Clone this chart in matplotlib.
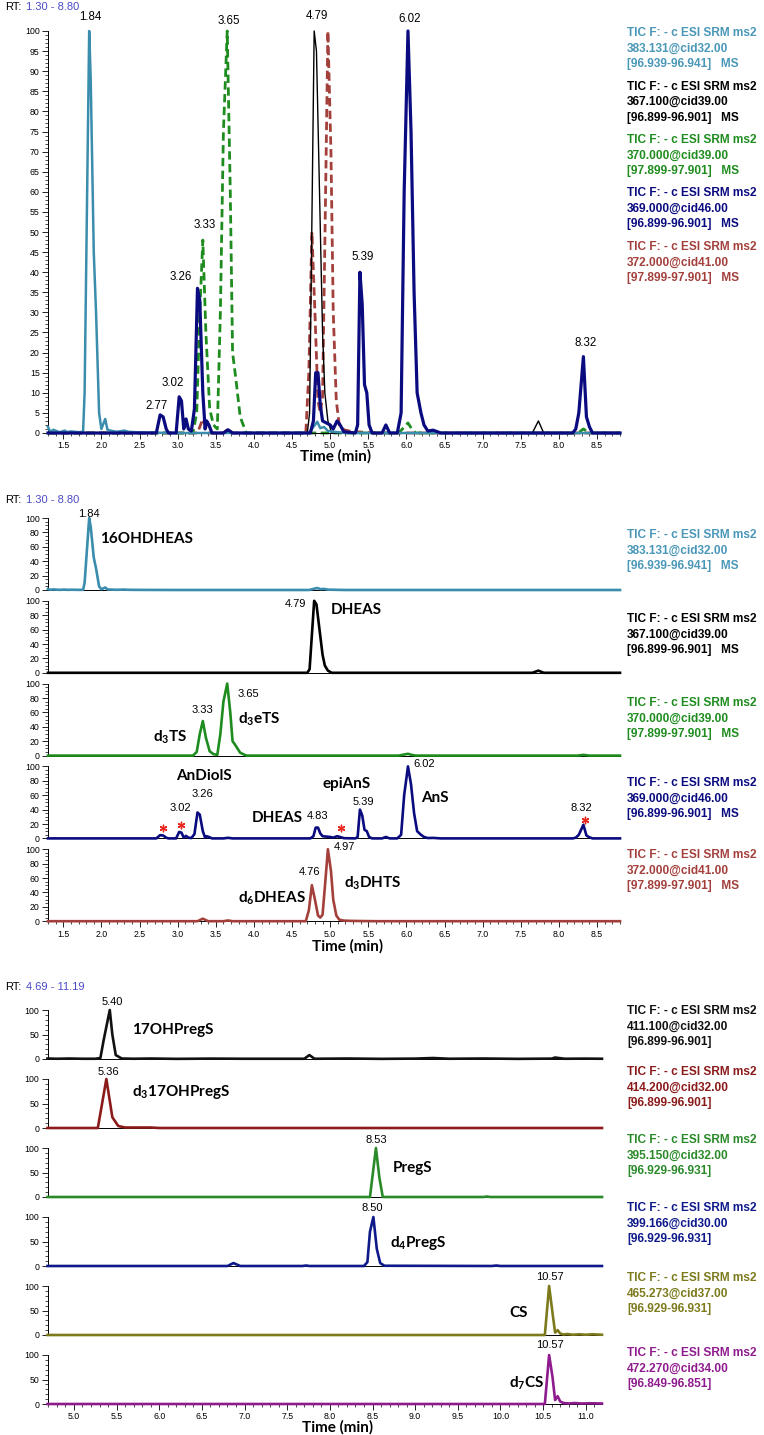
import matplotlib
matplotlib.use("Agg")
import matplotlib.pyplot as plt
from matplotlib.ticker import MultipleLocator

plt.rcParams['font.family'] = ['Liberation Sans', 'DejaVu Sans']

W, H = 764, 1435

# ---- overlay / stacked panels (RT 1.30 - 8.80) ----
teal_t = [1.30, 1.33, 1.37, 1.45, 1.52, 1.55, 1.60, 1.70, 1.76, 1.78, 1.84, 1.86, 1.90, 1.93, 1.97, 2.00,
          2.05, 2.08, 2.12, 2.20, 2.30, 2.35, 2.45, 2.60, 3.00, 4.72, 4.78, 4.83, 4.87, 4.92, 4.97, 5.05, 5.20, 8.80]
teal_i = [1.5, 0.3, 0.8, 0.2, 0.6, 0.2, 0.4, 0.2, 0.3, 10, 100, 88, 45, 30, 5, 1,
          3.5, 0.8, 0.6, 0.3, 0.6, 0.3, 0.2, 0.1, 0, 0, 1.5, 2.8, 1.2, 1.5, 0.5, 0.3, 0, 0]

black_t = [1.30, 4.70, 4.73, 4.79, 4.82, 4.86, 4.90, 4.93, 4.97, 5.02, 7.65, 7.73, 7.80, 8.80]
black_i = [0, 0, 5, 100, 95, 60, 25, 10, 3, 0, 0, 3, 0, 0]

green_t = [1.30, 3.20, 3.25, 3.29, 3.33, 3.37, 3.42, 3.47, 3.52, 3.56, 3.60, 3.65, 3.69, 3.72, 3.76, 3.82, 3.90,
           5.90, 5.97, 6.02, 6.07, 6.12, 8.25, 8.32, 8.40, 8.80]
green_i = [0, 0, 5, 30, 48, 25, 6, 2, 1, 30, 75, 100, 60, 20, 14, 4, 0,
           0, 1.5, 2.5, 1, 0, 0, 1, 0, 0]

navy_t = [1.30, 2.72, 2.77, 2.81, 2.85, 2.88, 2.98, 3.02, 3.05, 3.08, 3.11, 3.14, 3.18, 3.22, 3.26, 3.29, 3.33,
          3.36, 3.38, 3.41, 3.45, 3.60, 3.66, 3.72, 4.74, 4.78, 4.81, 4.84, 4.87, 4.90, 4.95, 5.00, 5.04, 5.09,
          5.13, 5.18, 5.33, 5.36, 5.39, 5.42, 5.45, 5.48, 5.51, 5.55, 5.68, 5.73, 5.78, 5.88, 5.93, 5.97, 6.02,
          6.06, 6.10, 6.14, 6.19, 6.23, 6.28, 6.35, 6.45, 8.18, 8.22, 8.26, 8.32, 8.36, 8.40, 8.44, 8.80]
navy_i = [0, 0, 4.5, 4, 1, 0, 0, 9, 8, 1, 3.5, 1, 0.5, 6, 36, 33, 10,
          1, 3, 2, 0, 0, 0.8, 0, 0, 3, 15, 15, 7, 3, 2.5, 2, 1, 3,
          2, 0.3, 0, 2, 40, 32, 12, 10, 2, 0, 0, 2, 0, 0, 5, 60, 100,
          75, 35, 10, 5, 2, 0.5, 0.7, 0, 0, 1, 5, 19, 4, 1.5, 0, 0]

red_t = [1.30, 3.26, 3.33, 3.40, 3.60, 3.66, 3.72, 4.68, 4.72, 4.76, 4.80, 4.84, 4.87, 4.90, 4.94, 4.97, 5.01,
         5.04, 5.08, 5.12, 5.18, 5.25, 5.35, 5.60, 8.80]
red_i = [0, 0, 3.5, 0, 0, 1, 0, 0, 15, 50, 30, 8, 5, 9, 60, 100, 70,
         30, 8, 2, 0.8, 0.5, 0.3, 0, 0]

upper_colors = ['#3b8dae', '#000000', '#1e8c1e', '#0b0b80', '#a3403c']
upper_text_colors = ['#4a97b8', '#000000', '#1e8c1e', '#0b0b80', '#a3403c']
upper_masses = ['383.131@cid32.00', '367.100@cid39.00', '370.000@cid39.00', '369.000@cid46.00', '372.000@cid41.00']
upper_ranges = ['[96.939-96.941]', '[96.899-96.901]', '[97.899-97.901]', '[96.899-96.901]', '[97.899-97.901]']

# peak labels of the overlay panel: (text, time, intensity)
overlay_labels = [('1.84', 1.85, 103.5), ('3.65', 3.67, 102.5), ('4.79', 4.82, 103.7), ('6.02', 6.04, 103),
                  ('3.33', 3.35, 51.7), ('3.26', 3.04, 38.8), ('3.02', 2.93, 12.4), ('2.77', 2.73, 6.7),
                  ('5.39', 5.43, 43.8), ('8.32', 8.35, 22.4)]

# stacked panel annotations, per trace: (text, time, intensity, ha, kind)
stack_labels = [
    [('1.84', 1.84, 106, 'center', 'rt'), ('16OHDHEAS', 1.98, 71, 'left', 'name')],
    [('4.79', 4.68, 96, 'right', 'rt'), ('DHEAS', 5.01, 87, 'left', 'name')],
    [('3.33', 3.33, 64, 'center', 'rt'), ('3.65', 3.79, 86, 'left', 'rt'),
     (r'$\mathregular{d_3}$TS', 2.68, 25, 'left', 'name'), (r'$\mathregular{d_3}$eTS', 3.79, 50, 'left', 'name')],
    [('AnDiolS', 3.35, 86, 'center', 'name'), ('3.26', 3.33, 61, 'center', 'rt'), ('3.02', 3.04, 42, 'center', 'rt'),
     ('epiAnS', 5.21, 75, 'center', 'name'), ('5.39', 5.44, 51, 'center', 'rt'), ('6.02', 6.09, 104, 'left', 'rt'),
     ('AnS', 6.19, 56, 'left', 'name'), ('DHEAS', 4.64, 28, 'right', 'name'), ('4.83', 4.84, 31, 'center', 'rt'),
     ('8.32', 8.30, 42, 'center', 'rt')],
    [('4.76', 4.73, 69, 'center', 'rt'), ('4.97', 5.05, 103, 'left', 'rt'),
     (r'$\mathregular{d_6}$DHEAS', 3.79, 32, 'left', 'name'), (r'$\mathregular{d_3}$DHTS', 5.18, 53, 'left', 'name')],
]
star_t = [2.81, 3.05, 5.14, 8.34]
star_i = [15, 18, 15, 25]

# ---- lower panel (RT 4.69 - 11.19) ----
b1_t = [4.69, 4.80, 4.95, 5.10, 5.25, 5.31, 5.35, 5.42, 5.45, 5.49, 5.56, 5.70, 5.90, 6.20, 6.60, 7.00, 7.40, 7.70,
        7.76, 7.82, 8.20, 8.60, 9.00, 9.21, 9.40, 9.80, 10.20, 10.60, 10.64, 10.75, 11.00, 11.19]
b1_i = [1, 0.5, 1, 0.5, 0.5, 2, 40, 100, 50, 8, 1, 0.5, 1, 0.3, 0.8, 0.5, 0.5, 0.5,
        8, 0.5, 1, 0.3, 0.8, 2, 0.5, 1, 0.3, 0.8, 3, 0.5, 0.8, 0.5]
b2_t = [4.69, 5.28, 5.38, 5.45, 5.52, 5.60, 5.90, 6.00, 11.19]
b2_i = [0, 0, 100, 22, 4, 1, 1, 0, 0]
b3_t = [4.69, 8.47, 8.54, 8.58, 8.62, 9.80, 9.84, 9.88, 11.19]
b3_i = [0, 0, 100, 40, 0, 0, 1, 0, 0]
b4_t = [4.69, 6.80, 6.87, 6.95, 7.68, 7.72, 7.76, 8.40, 8.44, 8.47, 8.51, 8.55, 8.59, 8.64, 9.90, 9.95, 10.0, 11.19]
b4_i = [0, 0, 6, 0, 0, 1, 0, 0, 8, 70, 100, 35, 6, 0.5, 0, 1, 0, 0]
b5_t = [4.69, 10.52, 10.57, 10.61, 10.64, 10.67, 10.70, 10.74, 10.78, 10.85, 10.92, 11.00, 11.08, 11.19]
b5_i = [0, 0, 100, 45, 5, 10, 3, 1, 2, 0.5, 1.5, 0.5, 1.5, 0.5]
b6_t = [4.69, 10.52, 10.57, 10.61, 10.64, 10.67, 10.70, 10.74, 10.80, 10.87, 10.95, 11.05, 11.19]
b6_i = [0, 0, 100, 55, 8, 16, 5, 2, 1, 2, 1, 1.5, 1]

lower_colors = ['#111111', '#8b1a1a', '#2a8a2a', '#0f1a8a', '#7c7a1c', '#8e1c8e']
lower_masses = ['411.100@cid32.00', '414.200@cid32.00', '395.150@cid32.00', '399.166@cid30.00',
                '465.273@cid37.00', '472.270@cid34.00']
lower_ranges = ['[96.899-96.901]', '[96.899-96.901]', '[96.929-96.931]', '[96.929-96.931]',
                '[96.929-96.931]', '[96.849-96.851]']
lower_labels = [
    [('5.40', 5.45, 116, 'center', 'rt'), ('17OHPregS', 5.68, 59, 'left', 'name')],
    [('5.36', 5.40, 114, 'center', 'rt'), (r'$\mathregular{d_3}$17OHPregS', 5.68, 73, 'left', 'name')],
    [('8.53', 8.54, 116, 'center', 'rt'), ('PregS', 8.74, 59, 'left', 'name')],
    [('8.50', 8.50, 118, 'center', 'rt'), (r'$\mathregular{d_4}$PregS', 8.70, 47, 'left', 'name')],
    [('10.57', 10.58, 118, 'center', 'rt'), ('CS', 10.11, 45, 'left', 'name')],
    [('10.57', 10.58, 120, 'center', 'rt'), (r'$\mathregular{d_7}$CS', 10.10, 43, 'left', 'name')],
]

TIC = 'TIC F: - c ESI SRM ms2'
RT_BLUE = '#4b4bc8'
NAME_FONT = dict(family=['Lato', 'DejaVu Sans'], weight='bold', size=11)

fig = plt.figure(figsize=(W / 100, H / 100), dpi=100)


def px_axes(left, right, top, bottom):
    return fig.add_axes([left / W, 1 - bottom / H, (right - left) / W, (bottom - top) / H])


def style_axes(ax, xlim, ymajor, yminor, show_x):
    ax.set_xlim(*xlim)
    ax.set_ylim(0, 100)
    for s in ['top', 'right']:
        ax.spines[s].set_visible(False)
    ax.spines['left'].set_linewidth(0.7)
    ax.spines['bottom'].set_linewidth(0.7)
    ax.yaxis.set_major_locator(MultipleLocator(ymajor))
    ax.yaxis.set_minor_locator(MultipleLocator(yminor))
    ax.tick_params(axis='y', which='major', length=4, width=0.6, labelsize=6.3, pad=2)
    ax.tick_params(axis='y', which='minor', length=2, width=0.5)
    if show_x:
        ax.xaxis.set_major_locator(MultipleLocator(0.5))
        ax.xaxis.set_minor_locator(MultipleLocator(0.1))
        ax.tick_params(axis='x', which='major', length=4, width=0.6, labelsize=6.3, pad=2)
        ax.tick_params(axis='x', which='minor', length=2, width=0.5)
        ax.xaxis.set_major_formatter(matplotlib.ticker.FormatStrFormatter('%.1f'))
    else:
        ax.set_xticks([])
        ax.xaxis.set_minor_locator(matplotlib.ticker.NullLocator())


def rt_header(y, rng):
    fig.text(5 / W, 1 - y / H, 'RT:', fontsize=8, va='center', ha='left')
    fig.text(26 / W, 1 - y / H, rng, fontsize=8, va='center', ha='left', color=RT_BLUE)


def legend_block(y, color, mass, rng, ms=True):
    lines = [TIC, mass, rng + ('   MS' if ms else '')]
    for k, line in enumerate(lines):
        fig.text(627 / W, 1 - (y + 15.5 * k) / H, line, fontsize=8.6, weight='bold',
                 color=color, va='center', ha='left')


def time_label(x, y):
    fig.text(x / W, 1 - y / H, 'Time (min)', ha='center', va='center', **NAME_FONT)


def annotate(ax, items):
    for text, t, v, ha, kind in items:
        if kind == 'rt':
            ax.text(t, v, text, ha=ha, va='center', fontsize=8, clip_on=False)
        else:
            ax.text(t, v, text, ha=ha, va='center', clip_on=False, **NAME_FONT)


upper_traces = [(teal_t, teal_i), (black_t, black_i), (green_t, green_i), (navy_t, navy_i), (red_t, red_i)]

# ---------------- overlay panel ----------------
rt_header(7, '1.30 - 8.80')
ax = px_axes(48, 620, 31, 433)
style_axes(ax, (1.30, 8.80), 5, 1, True)
ax.plot(red_t, red_i, color=upper_colors[4], lw=2, ls=(0, (3, 1.6)), clip_on=False, zorder=2)
ax.plot(green_t, green_i, color=upper_colors[2], lw=2, ls=(0, (3, 1.6)), clip_on=False, zorder=2)
ax.plot(black_t, black_i, color=upper_colors[1], lw=1.0, clip_on=False, zorder=3)
ax.plot(teal_t, teal_i, color=upper_colors[0], lw=1.8, clip_on=False, zorder=3)
ax.plot(navy_t, navy_i, color=upper_colors[3], lw=2.3, clip_on=False, zorder=4)
for text, t, v in overlay_labels:
    ax.text(t, v, text, ha='center', va='center', fontsize=8.3, clip_on=False)
time_label(336, 456)
for k in range(5):
    legend_block(33 + 53.5 * k, upper_text_colors[k], upper_masses[k], upper_ranges[k])

# ---------------- stacked panel ----------------
rt_header(500, '1.30 - 8.80')
mid_legend_y = [535, 619, 703, 783, 855]
for k in range(5):
    zero = 590 + 82.8 * k
    ax = px_axes(48, 620, zero - 72, zero)
    style_axes(ax, (1.30, 8.80), 20, 5, k == 4)
    t, v = upper_traces[k]
    ax.plot(t, v, color=upper_colors[k], lw=1.9, clip_on=False, zorder=3)
    annotate(ax, stack_labels[k])
    if k == 3:
        ax.scatter(star_t, star_i, marker=(6, 2, 0), s=22, color='#e8281e', lw=1.0, clip_on=False, zorder=5)
    legend_block(mid_legend_y[k], upper_text_colors[k], upper_masses[k], upper_ranges[k])
time_label(348, 946)

# ---------------- lower panel ----------------
rt_header(987, '4.69 - 11.19')
lower_traces = [(b1_t, b1_i), (b2_t, b2_i), (b3_t, b3_i), (b4_t, b4_i), (b5_t, b5_i), (b6_t, b6_i)]
low_legend_y = [1011, 1072, 1140, 1208, 1278, 1353]
for k in range(6):
    zero = 1059 + 69 * k
    ax = px_axes(47.5, 602, zero - 49, zero)
    style_axes(ax, (4.69, 11.19), 50, 10, k == 5)
    t, v = lower_traces[k]
    ax.plot(t, v, color=lower_colors[k], lw=1.9, clip_on=False, zorder=3)
    annotate(ax, lower_labels[k])
    legend_block(low_legend_y[k], lower_colors[k], lower_masses[k], lower_ranges[k], ms=False)
time_label(338, 1427)

fig.savefig('out.png', dpi=100)
